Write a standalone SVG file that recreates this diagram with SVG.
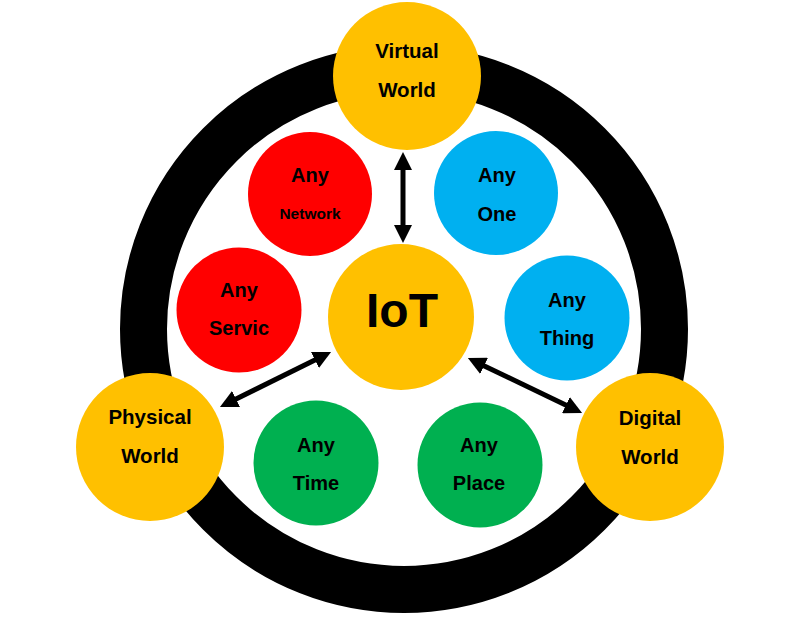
<svg xmlns="http://www.w3.org/2000/svg" width="800" height="619" viewBox="0 0 800 619">
<style>
.t{font-family:"Liberation Sans",Arial,sans-serif;font-weight:bold;fill:#000;text-anchor:middle}
.w{font-size:20.5px}
.s{font-size:20px}
.y{fill:#FFC000}
.r{fill:#FF0000}
.b{fill:#00B0F0}
.g{fill:#00B050}
.c{stroke:#000;stroke-width:5;fill:none}
</style>
<defs>
<marker id="ah" markerUnits="userSpaceOnUse" markerWidth="18" markerHeight="18" refX="9" refY="9" orient="auto-start-reverse" viewBox="0 0 18 18">
<path d="M0,0 L18,9 L0,18 z" fill="#000"/>
</marker>
</defs>
<rect width="800" height="619" fill="#fff"/>
<circle id="ring" cx="404" cy="329" r="260.5" fill="none" stroke="#000" stroke-width="47"/>
<g id="connectors">
<line class="c" x1="403" y1="161" x2="403" y2="234" marker-start="url(#ah)" marker-end="url(#ah)"/>
<line class="c" x1="228" y1="403" x2="323" y2="356" marker-start="url(#ah)" marker-end="url(#ah)"/>
<line class="c" x1="476" y1="362" x2="574" y2="409" marker-start="url(#ah)" marker-end="url(#ah)"/>
</g>
<g id="virtual-world"><circle class="y" cx="407" cy="76" r="74"/><text class="t w" x="407" y="58">Virtual</text><text class="t w" x="407" y="97">World</text></g>
<g id="physical-world"><circle class="y" cx="150" cy="447" r="74"/><text class="t w" x="150" y="424">Physical</text><text class="t w" x="150" y="463">World</text></g>
<g id="digital-world"><circle class="y" cx="650" cy="447" r="74"/><text class="t w" x="650" y="425">Digital</text><text class="t w" x="650" y="464">World</text></g>
<g id="iot"><circle class="y" cx="401" cy="317" r="73"/><text class="t" x="402" y="327" font-size="48">IoT</text></g>
<g id="any-network"><circle class="r" cx="310" cy="194" r="62"/><text class="t s" x="310" y="182">Any</text><text class="t" x="310" y="219" font-size="15.5">Network</text></g>
<g id="any-one"><circle class="b" cx="496" cy="193" r="62"/><text class="t s" x="497" y="182">Any</text><text class="t s" x="497" y="221">One</text></g>
<g id="any-servic"><circle class="r" cx="239" cy="310" r="62.5"/><text class="t s" x="239" y="297">Any</text><text class="t s" x="239" y="335">Servic</text></g>
<g id="any-thing"><circle class="b" cx="567" cy="318" r="62.5"/><text class="t s" x="567" y="307">Any</text><text class="t s" x="567" y="345">Thing</text></g>
<g id="any-time"><circle class="g" cx="316" cy="463" r="62.5"/><text class="t s" x="316" y="452">Any</text><text class="t s" x="316" y="490">Time</text></g>
<g id="any-place"><circle class="g" cx="480" cy="465" r="62.5"/><text class="t s" x="479" y="452">Any</text><text class="t s" x="479" y="490">Place</text></g>
</svg>
